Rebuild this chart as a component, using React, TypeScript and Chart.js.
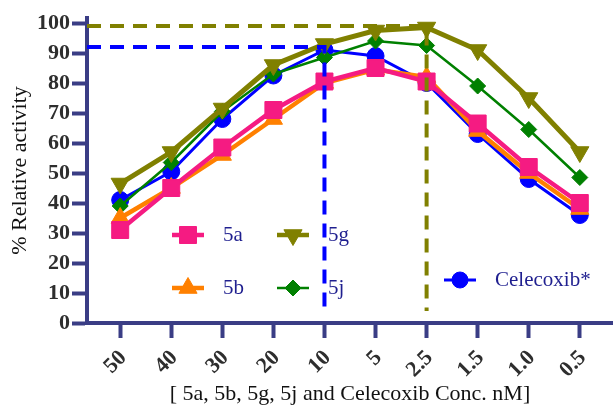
import React, { useEffect, useRef } from 'react';
import { Chart, registerables } from 'chart.js';
import { drawPoint } from 'chart.js/helpers';

Chart.register(...registerables);

// ---- data ----
const categories = ['50', '40', '30', '20', '10', '5', '2.5', '1.5', '1.0', '0.5'];
const s5a = [31, 45, 58.5, 71, 80.5, 85, 80.5, 66.5, 52, 40];
const s5b = [35, 45, 56, 68, 80, 84.5, 82, 64, 50, 38];
const s5g = [46.5, 57, 71.5, 86, 93, 97.5, 98.5, 91, 75, 57];
const s5j = [39, 53.5, 70.5, 83, 88.5, 94, 92.5, 79, 64.5, 48.5];
const celecoxib = [41, 50.5, 68, 82.5, 91, 89, 80, 63, 48, 36];
const yTicks = [0, 10, 20, 30, 40, 50, 60, 70, 80, 90, 100];

// guide lines (reference level, category index where it drops)
const guide5gLevel = 99;
const guide5gIndex = 6;
const guideCelLevel = 92;
const guideCelIndex = 4;
const guideBottom = 4;

const X_MIN = -0.65;
const X_MAX = 9.65;
const Y_MAX = 101.67;

const SERIF = "'Liberation Serif', 'Times New Roman', serif";
const AXIS = '#3a3d85';
const PINK = '#f51b82';
const ORANGE = '#ff8000';
const OLIVE = '#808000';
const GREEN = '#008000';
const BLUE = '#0000ff';
const NAVY = '#1f1f8f';

const toXY = (arr: number[]) => arr.map((y, i) => ({ x: i, y }));

const legendItems = [
  { label: '5a', x: 188, y: 235, color: PINK, style: 'rect', radius: 12, rotation: 0, lw: 4.5, tx: 223 },
  { label: '5b', x: 188, y: 288, color: ORANGE, style: 'triangle', radius: 10.5, rotation: 0, lw: 4.5, tx: 223 },
  { label: '5g', x: 293, y: 235, color: OLIVE, style: 'triangle', radius: 10.5, rotation: 180, lw: 4.5, tx: 328 },
  { label: '5j', x: 293, y: 288, color: GREEN, style: 'rectRot', radius: 8, rotation: 0, lw: 2.5, tx: 328 },
  { label: 'Celecoxib*', x: 460, y: 280, color: BLUE, style: 'circle', radius: 8, rotation: 0, lw: 3, tx: 495 },
];

const legendPlugin = {
  id: 'customLegend',
  afterDatasetsDraw(chart: any) {
    const ctx = chart.ctx;
    ctx.save();
    for (const it of legendItems) {
      ctx.strokeStyle = it.color;
      ctx.fillStyle = it.color;
      ctx.lineWidth = it.lw;
      ctx.setLineDash([]);
      ctx.beginPath();
      ctx.moveTo(it.x - 16, it.y);
      ctx.lineTo(it.x + 16, it.y);
      ctx.stroke();
      ctx.lineWidth = 1;
      drawPoint(ctx, { pointStyle: it.style, radius: it.radius, rotation: it.rotation, borderWidth: 1 } as any, it.x, it.y);
      ctx.fillStyle = NAVY;
      ctx.font = `21px ${SERIF}`;
      ctx.textAlign = 'left';
      ctx.textBaseline = 'middle';
      ctx.fillText(it.label, it.tx, it.y);
    }
    ctx.restore();
  },
};

function series(label: string, data: number[], color: string, style: string, radius: number, lw: number, rotation = 0) {
  return {
    label,
    data: toXY(data),
    borderColor: color,
    backgroundColor: color,
    pointBackgroundColor: color,
    pointBorderColor: color,
    pointBorderWidth: 1,
    pointStyle: style,
    pointRadius: radius,
    pointRotation: rotation,
    borderWidth: lw,
    tension: 0,
    clip: false as any,
  };
}

const zeroPadding = (scale: any) => {
  scale.paddingLeft = 0;
  scale.paddingRight = 0;
  scale.paddingTop = 0;
  scale.paddingBottom = 0;
};

export default function App() {
  const ref = useRef<HTMLCanvasElement | null>(null);

  useEffect(() => {
    if (!ref.current) return;
    const guideStyle = (color: string) => ({
      borderColor: color,
      backgroundColor: color,
      borderWidth: 4,
      borderDash: [14, 9],
      pointRadius: 0,
      tension: 0,
      clip: false as any,
    });
    const chart = new Chart(ref.current, {
      type: 'line',
      data: {
        datasets: [
          {
            label: 'guide5g',
            data: [
              { x: X_MIN, y: guide5gLevel },
              { x: guide5gIndex, y: guide5gLevel },
              { x: guide5gIndex, y: guideBottom },
            ],
            ...guideStyle(OLIVE),
          } as any,
          {
            label: 'guideCel',
            data: [
              { x: X_MIN, y: guideCelLevel },
              { x: guideCelIndex, y: guideCelLevel },
              { x: guideCelIndex, y: guideBottom },
            ],
            ...guideStyle(BLUE),
          } as any,
          series('5a', s5a, PINK, 'rect', 12, 4.5),
          series('5b', s5b, ORANGE, 'triangle', 10.5, 4.5),
          series('5g', s5g, OLIVE, 'triangle', 10.5, 5, 180),
          series('5j', s5j, GREEN, 'rectRot', 8, 2.5),
          series('Celecoxib*', celecoxib, BLUE, 'circle', 8.5, 3),
        ] as any,
      },
      options: {
        responsive: false,
        animation: false,
        devicePixelRatio: 1,
        layout: { autoPadding: false, padding: { top: 18, left: 0, right: 0, bottom: 0 } },
        plugins: { legend: { display: false }, tooltip: { enabled: false } },
        scales: {
          x: {
            type: 'linear',
            min: X_MIN,
            max: X_MAX,
            afterBuildTicks: (scale: any) => {
              scale.ticks = categories.map((_, i) => ({ value: i }));
            },
            afterFit: (scale: any) => {
              scale.height = 84;
              zeroPadding(scale);
            },
            ticks: {
              autoSkip: false,
              maxRotation: 45,
              minRotation: 45,
              padding: 7,
              labelOffset: 3,
              color: '#2e2e2e',
              font: { family: SERIF, size: 22, weight: 'bold' },
              callback: (v: any) => categories[v] ?? '',
            },
            grid: {
              display: true,
              drawOnChartArea: false,
              drawTicks: true,
              tickLength: 15,
              tickWidth: 4,
              tickColor: AXIS,
            },
            border: { display: true, color: AXIS, width: 4 },
            title: {
              display: true,
              text: '[ 5a, 5b, 5g, 5j and Celecoxib Conc. nM]',
              color: '#111',
              font: { family: SERIF, size: 22, weight: 'normal', lineHeight: 1.2 },
              padding: { top: 0, bottom: 0 },
            },
          },
          y: {
            type: 'linear',
            min: 0,
            max: Y_MAX,
            afterBuildTicks: (scale: any) => {
              scale.ticks = yTicks.map((v) => ({ value: v }));
            },
            afterFit: (scale: any) => {
              scale.width = 87;
              zeroPadding(scale);
            },
            ticks: {
              padding: 2,
              color: '#2e2e2e',
              font: { family: SERIF, size: 22, weight: 'bold' },
            },
            grid: {
              display: true,
              drawOnChartArea: false,
              drawTicks: true,
              tickLength: 15,
              tickWidth: 4,
              tickColor: AXIS,
            },
            border: { display: true, color: AXIS, width: 4 },
            title: {
              display: true,
              text: '% Relative activity',
              color: '#111',
              font: { family: SERIF, size: 22, weight: 'normal', lineHeight: 1.2 },
              padding: { top: 7, bottom: 0 },
            },
          },
        },
      } as any,
      plugins: [legendPlugin],
    });
    return () => chart.destroy();
  }, []);

  return (
    <div style={{ position: 'fixed', left: 0, top: 0, width: 613, height: 407, background: '#fff' }}>
      <canvas ref={ref} width={613} height={407} style={{ width: 613, height: 407, display: 'block' }} />
    </div>
  );
}
